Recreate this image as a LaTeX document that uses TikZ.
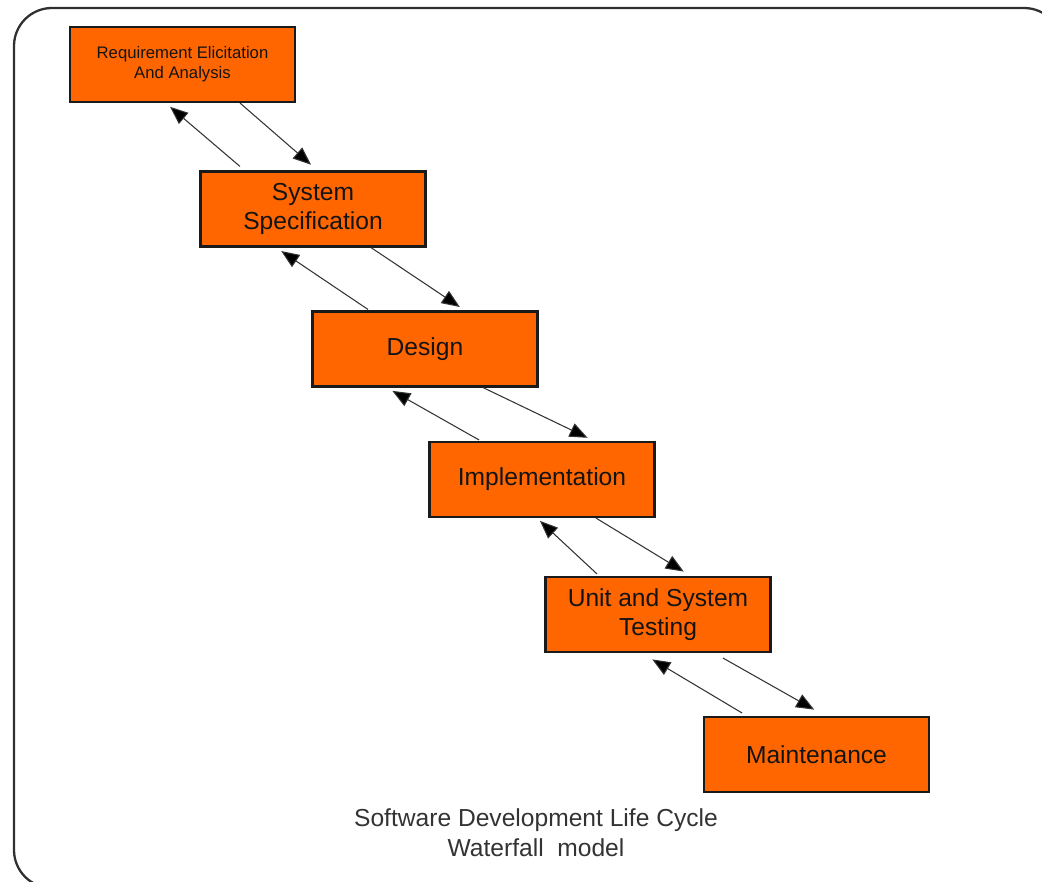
\documentclass[tikz,border=0pt]{standalone}
\usepackage{fontspec}
\setmainfont{Liberation Sans}
\usetikzlibrary{arrows.meta,calc,positioning}
\definecolor{ink}{HTML}{141414}
\definecolor{muted}{HTML}{333333}
\definecolor{phasefill}{HTML}{FF6600}
\definecolor{phaseline}{HTML}{1A1A1A}
\definecolor{frameline}{HTML}{303030}
\newcommand{\fourteen}{\fontsize{14}{16.5}\selectfont}
\newcommand{\smallnine}{\fontsize{9.5}{11.5}\selectfont}
\tikzset{
 every node/.append style={font=\fourteen,text=ink,align=center},
 phase/.style={draw=phaseline,fill=phasefill,line width=1.2pt,minimum width=4.5cm,minimum height=1.5cm,inner sep=2pt},
 back/.style={-{Triangle[length=3.6mm,width=2.9mm,fill=black]},draw=muted,line width=.6pt,shorten >=1.5pt},
 fwd/.style={-{Triangle[length=3.6mm,width=2.9mm,fill=black]},draw=muted,line width=.6pt,shorten >=1.5pt},
 frame/.style={draw=frameline,line width=1.3pt,rounded corners=.76cm},
 caption/.style={font=\fontsize{14}{17}\selectfont,text=muted},
}
\begin{document}
\begin{tikzpicture}

\useasboundingbox (0,0) rectangle (20.84,-17.64);
\draw[frame] (.28,-.16) rectangle (21.24,-17.76);
\node[phase,font=\smallnine] (req) at (3.65,-1.29) {Requirement Elicitation\\And Analysis};
\node[phase] (spec) at (6.26,-4.18) {System\\Specification};
\node[phase] (design) at (8.50,-6.98) {Design};
\node[phase] (impl) at (10.84,-9.59) {Implementation};
\node[phase] (test) at (13.16,-12.29) {Unit and System\\Testing};
\node[phase] (maint) at (16.33,-15.09) {Maintenance};
\draw[back] ([xshift=-1.46cm,yshift=.08cm]spec.north) -- ([xshift=-.29cm,yshift=-.04cm]req.south);
\draw[fwd] ([xshift=1.15cm]req.south) -- ([yshift=.08cm]spec.north);
\draw[back] ([xshift=-1.14cm,yshift=.02cm]design.north) -- ([xshift=-.68cm,yshift=-.04cm]spec.south);
\draw[fwd] ([xshift=1.16cm]spec.south) -- ([xshift=.74cm,yshift=.04cm]design.north);
\draw[back] ([xshift=-1.26cm,yshift=.02cm]impl.north) -- ([xshift=-.70cm,yshift=-.04cm]design.south);
\draw[fwd] ([xshift=1.16cm]design.south) -- ([xshift=.96cm,yshift=.04cm]impl.north);
\draw[back] ([xshift=-1.22cm,yshift=.04cm]test.north) -- ([xshift=-.08cm,yshift=-.02cm]impl.south);
\draw[fwd] ([xshift=1.08cm]impl.south) -- ([xshift=.56cm,yshift=.06cm]test.north);
\draw[back] ([xshift=-1.49cm,yshift=.06cm]maint.north) -- ([xshift=-.16cm,yshift=-.1cm]test.south);
\draw[fwd] ([xshift=1.30cm,yshift=-.1cm]test.south) -- ([yshift=.1cm]maint.north);
\node[caption] (title) at (10.72,-16.66) {Software Development Life Cycle\\Waterfall\ \ model};

\end{tikzpicture}
\end{document}
